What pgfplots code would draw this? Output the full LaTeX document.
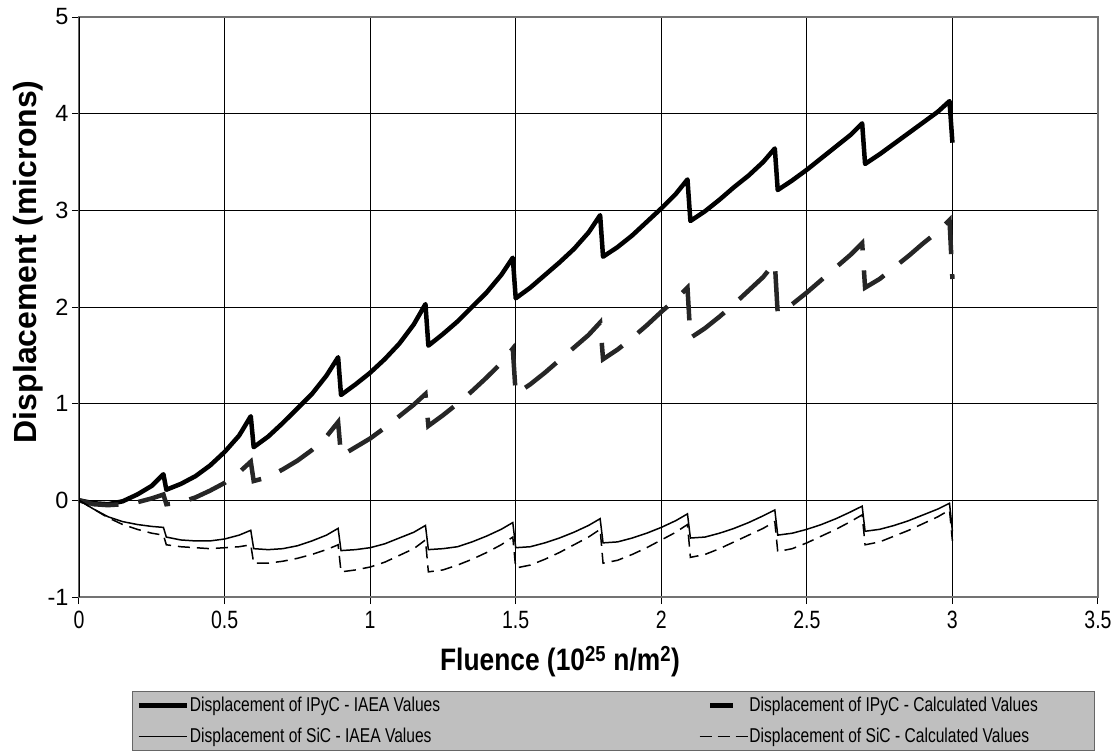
\documentclass[border=0pt]{standalone}
\usepackage{fontspec}
\setmainfont{Liberation Sans}
\newfontfamily\narrowfont{Liberation Sans}[FakeStretch=0.78]
\newfontfamily\xnarrowfont{Liberation Sans}[FakeStretch=0.85]
\usepackage{pgfplots}
\pgfplotsset{compat=1.18}
\begin{document}
\begin{tikzpicture}
\path[use as bounding box] (-79pt,-156pt) rectangle (1041pt,597pt);
\begin{axis}[
  at={(0pt,0pt)}, anchor=south west,
  width=1019pt, height=580pt, scale only axis,
  xmin=0, xmax=3.5, ymin=-1, ymax=5,
  xtick={0,0.5,1,1.5,2,2.5,3,3.5},
  ytick={-1,0,1,2,3,4,5},
  /pgf/number format/assume math mode=true,
  grid=major,
  major grid style={black, line width=1pt},
  axis line style={black!55, line width=1.2pt},
  tick align=outside, major tick length=7pt,
  tick style={black, line width=1pt},
  xtick pos=bottom, ytick pos=left,
  xticklabel style={font=\narrowfont\fontsize{25}{25}\selectfont, yshift=-4pt},
  yticklabel style={font=\fontsize{23.5}{23.5}\selectfont},
  xlabel={Fluence (10\textsuperscript{25} n/m\textsuperscript{2})},
  ylabel={Displacement (microns)},
  xlabel style={font=\xnarrowfont\bfseries\fontsize{31}{31}\selectfont, at={(axis description cs:0.472,-0.112)}, anchor=center},
  ylabel style={font=\bfseries\fontsize{32}{32}\selectfont, at={(axis description cs:-0.050,0.578)}, anchor=center},
  legend columns=2,
  legend cell align=left,
  legend style={at={(axis description cs:0.5245,-0.162)}, anchor=north,
    fill=black!25, draw=black!60, line width=0.8pt,
    font=\narrowfont\fontsize{20}{20}\selectfont,
    inner xsep=4pt, inner ysep=5pt,
    nodes={inner sep=1pt},
    row sep=13pt},
]
\addplot[black, line width=4.5pt, line join=round,
  legend image code/.code={\draw[black, solid, line width=4.5pt] (0pt,0pt) -- (48pt,0pt);}] coordinates {
(0,0) (0.05,-0.03) (0.1,-0.04) (0.15,-0.01) (0.2,0.06) (0.25,0.15) (0.29,0.27)
(0.30,0.11) (0.35,0.17) (0.4,0.25) (0.45,0.36) (0.5,0.5) (0.55,0.67) (0.59,0.87)
(0.60,0.55) (0.65,0.66) (0.7,0.8) (0.75,0.95) (0.8,1.1) (0.85,1.29) (0.89,1.48)
(0.90,1.09) (0.95,1.2) (1.0,1.32) (1.05,1.46) (1.1,1.62) (1.15,1.82) (1.19,2.03)
(1.20,1.60) (1.25,1.72) (1.3,1.85) (1.35,2.0) (1.4,2.15) (1.45,2.33) (1.49,2.51)
(1.50,2.09) (1.55,2.2) (1.6,2.33) (1.65,2.46) (1.7,2.6) (1.75,2.77) (1.79,2.95)
(1.80,2.52) (1.85,2.62) (1.9,2.74) (1.95,2.88) (2.0,3.02) (2.05,3.17) (2.09,3.32)
(2.10,2.89) (2.15,2.99) (2.2,3.11) (2.25,3.24) (2.3,3.36) (2.35,3.50) (2.39,3.64)
(2.40,3.21) (2.45,3.31) (2.5,3.42) (2.55,3.54) (2.6,3.66) (2.65,3.78) (2.69,3.90)
(2.70,3.48) (2.75,3.58) (2.8,3.69) (2.85,3.80) (2.9,3.91) (2.95,4.02) (2.99,4.13)
(3.0,3.70)
};
\addlegendentry{\makebox[508pt][l]{Displacement of IPyC - IAEA Values}}
\addplot[black!85, line width=4.5pt, dash pattern=on 40pt off 20pt,
  legend image code/.code={\path[draw=none, fill=none] (0pt,0pt) -- (48pt,0pt); \path[draw=none, fill=black] (10pt,-2.6pt) rectangle (33pt,2.6pt);}] coordinates {
(0,0) (0.05,-0.04) (0.1,-0.05) (0.15,-0.04) (0.2,-0.02) (0.25,0.02) (0.29,0.06)
(0.30,-0.04) (0.35,-0.02) (0.4,0.03) (0.45,0.1) (0.5,0.18) (0.55,0.29) (0.59,0.40)
(0.60,0.20) (0.65,0.24) (0.7,0.32) (0.75,0.41) (0.8,0.52) (0.85,0.66) (0.89,0.81)
(0.90,0.46) (0.95,0.55) (1.0,0.64) (1.05,0.75) (1.1,0.87) (1.15,0.99) (1.19,1.10)
(1.20,0.77) (1.25,0.88) (1.3,1.0) (1.35,1.13) (1.4,1.27) (1.45,1.42) (1.49,1.57)
(1.50,1.10) (1.55,1.2) (1.6,1.32) (1.65,1.45) (1.7,1.58) (1.75,1.71) (1.79,1.84)
(1.80,1.46) (1.85,1.56) (1.9,1.68) (1.95,1.81) (2.0,1.95) (2.05,2.08) (2.09,2.20)
(2.10,1.68) (2.15,1.78) (2.2,1.9) (2.25,2.03) (2.3,2.17) (2.35,2.31) (2.39,2.46)
(2.40,1.93) (2.45,2.03) (2.5,2.15) (2.55,2.28) (2.6,2.41) (2.65,2.54) (2.69,2.66)
(2.70,2.20) (2.75,2.29) (2.8,2.41) (2.85,2.53) (2.9,2.66) (2.95,2.78) (2.99,2.90)
(3.0,2.29)
};
\addlegendentry{\makebox[340pt][l]{Displacement of IPyC - Calculated Values}}
\addplot[black, line width=1.5pt,
  legend image code/.code={\draw[black, solid, line width=1.5pt] (0pt,0pt) -- (48pt,0pt);}] coordinates {
(0,0) (0.05,-0.09) (0.1,-0.17) (0.15,-0.22) (0.2,-0.25) (0.25,-0.27) (0.29,-0.28)
(0.30,-0.38) (0.35,-0.41) (0.4,-0.42) (0.45,-0.42) (0.5,-0.4) (0.55,-0.36) (0.59,-0.31)
(0.60,-0.50) (0.65,-0.51) (0.7,-0.5) (0.75,-0.47) (0.8,-0.42) (0.85,-0.36) (0.89,-0.29)
(0.90,-0.52) (0.95,-0.51) (1.0,-0.49) (1.05,-0.45) (1.1,-0.39) (1.15,-0.33) (1.19,-0.26)
(1.20,-0.51) (1.25,-0.5) (1.3,-0.48) (1.35,-0.43) (1.4,-0.37) (1.45,-0.3) (1.49,-0.23)
(1.50,-0.49) (1.55,-0.48) (1.6,-0.44) (1.65,-0.39) (1.7,-0.33) (1.75,-0.26) (1.79,-0.19)
(1.80,-0.44) (1.85,-0.43) (1.9,-0.39) (1.95,-0.34) (2.0,-0.28) (2.05,-0.21) (2.09,-0.14)
(2.10,-0.39) (2.15,-0.38) (2.2,-0.34) (2.25,-0.29) (2.3,-0.23) (2.35,-0.16) (2.39,-0.10)
(2.40,-0.36) (2.45,-0.34) (2.5,-0.30) (2.55,-0.25) (2.6,-0.19) (2.65,-0.12) (2.69,-0.06)
(2.70,-0.32) (2.75,-0.30) (2.8,-0.26) (2.85,-0.21) (2.9,-0.15) (2.95,-0.09) (2.99,-0.03)
(3.0,-0.32)
};
\addlegendentry{\makebox[508pt][l]{Displacement of SiC - IAEA Values}}
\addplot[black, line width=1.5pt, dash pattern=on 12pt off 7pt,
  legend image code/.code={\draw[black, line width=1.5pt, dash pattern=on 12pt off 6pt] (0pt,0pt) -- (48pt,0pt);}] coordinates {
(0,0) (0.05,-0.09) (0.1,-0.18) (0.15,-0.25) (0.2,-0.3) (0.25,-0.34) (0.29,-0.36)
(0.30,-0.46) (0.35,-0.48) (0.4,-0.49) (0.45,-0.5) (0.5,-0.49) (0.55,-0.48) (0.59,-0.46)
(0.60,-0.65) (0.65,-0.65) (0.7,-0.63) (0.75,-0.6) (0.8,-0.56) (0.85,-0.51) (0.89,-0.46)
(0.90,-0.74) (0.95,-0.72) (1.0,-0.69) (1.05,-0.64) (1.1,-0.57) (1.15,-0.5) (1.19,-0.41)
(1.20,-0.74) (1.25,-0.72) (1.3,-0.67) (1.35,-0.61) (1.4,-0.54) (1.45,-0.46) (1.49,-0.38)
(1.50,-0.70) (1.55,-0.67) (1.6,-0.61) (1.65,-0.54) (1.7,-0.46) (1.75,-0.38) (1.79,-0.30)
(1.80,-0.65) (1.85,-0.62) (1.9,-0.56) (1.95,-0.49) (2.0,-0.41) (2.05,-0.33) (2.09,-0.25)
(2.10,-0.59) (2.15,-0.56) (2.2,-0.5) (2.25,-0.43) (2.3,-0.36) (2.35,-0.29) (2.39,-0.22)
(2.40,-0.53) (2.45,-0.5) (2.5,-0.44) (2.55,-0.37) (2.6,-0.3) (2.65,-0.22) (2.69,-0.15)
(2.70,-0.46) (2.75,-0.43) (2.8,-0.37) (2.85,-0.31) (2.9,-0.24) (2.95,-0.17) (2.99,-0.10)
(3.0,-0.42)
};
\addlegendentry{\makebox[340pt][l]{Displacement of SiC - Calculated Values}}
\draw[black, line width=1.2pt] (axis cs:0,-1) -- (axis cs:0,5);
\end{axis}
\end{tikzpicture}
\end{document}
